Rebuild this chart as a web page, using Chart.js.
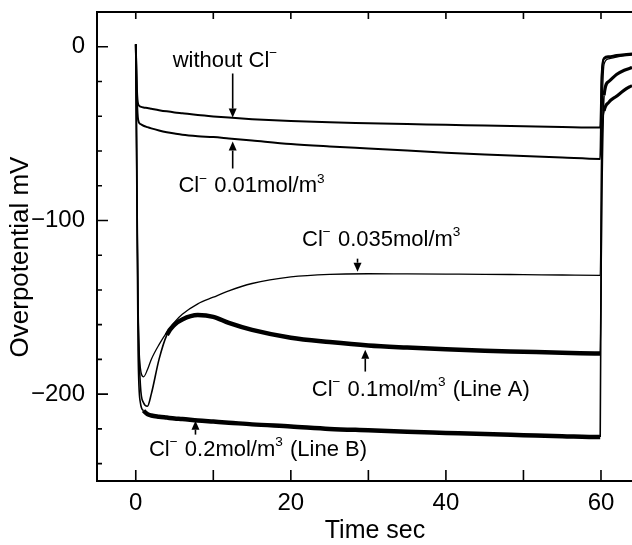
<!DOCTYPE html>
<html>
<head>
<meta charset="utf-8">
<script src="https://cdn.jsdelivr.net/npm/chart.js@4.4.1/dist/chart.umd.min.js"></script>
<style>
  html, body { margin: 0; padding: 0; background: #fff; }
  #wrap { width: 632px; height: 545px; }
</style>
</head>
<body>
<div id="wrap"><canvas id="chart" width="632" height="545"></canvas></div>
<script>
// time axis, seconds
const time = [0, 0.15, 0.3, 0.6, 1, 1.5, 2, 3, 4, 5, 6, 8, 10, 12, 15, 20, 25, 30, 35, 40, 45, 50, 55, 59.9, 60.1, 60.4, 61, 62, 63, 64];

// overpotential, mV
const withoutCl = [1.5, -25, -33, -34.5, -35, -35.3, -35.7, -36.5, -37.2, -37.8, -38.3, -39.3, -40.1, -40.8, -41.7, -42.8, -43.5, -44, -44.5, -44.9, -45.4, -45.8, -46.2, -46.5, -15, -6.5, -5.5, -4.8, -4.3, -3.9];
const cl001 = [1.5, -30, -42, -44.5, -45.5, -46.3, -47, -48.2, -49.2, -50, -50.7, -51.5, -52, -52.8, -54, -56, -57.4, -58.6, -59.8, -61, -62, -62.9, -63.8, -64.6, -18, -7, -6, -5.3, -4.7, -4.3];
const cl0035 = [1.5, -80, -150, -185, -190, -186, -180, -171.5, -164.5, -158.5, -154, -148, -144.2, -140.5, -136.3, -132.5, -131, -130.7, -130.8, -130.9, -131, -131.2, -131.4, -131.6, -50, -10, -7, -6, -5.3, -4.8];
const cl01 = [1.5, -80, -150, -195, -205, -207, -200, -180, -166, -160, -157, -154.5, -155.5, -159, -163, -167.5, -170, -172, -173.2, -174.2, -175, -175.6, -176.2, -176.6, -90, -28, -20, -16, -13.5, -12];
const cl02 = [1.5, -90, -175, -205, -209.5, -211.5, -212.3, -213, -213.5, -214, -214.3, -215.2, -215.8, -216.4, -217.4, -218.6, -220, -220.8, -221.6, -222.3, -223, -223.6, -224.2, -224.7, -60, -37, -32, -28.5, -25, -22.3];

const xTicks = [0, 20, 40, 60];
const xMinor = [0, 10, 20, 30, 40, 50, 60];
const yTicks = [0, -100, -200];
const yMinor = [-20, -40, -60, -80, -120, -140, -160, -180, -220, -240];

// annotation labels: text anchor (left, baseline) and arrow, in data units
const notes = [
  { parts: [['without Cl'], ['\u2212', 1]], tx: 4.76, ty: -11.4, ax: 12.5, from: -15.4, to: -40.8 },
  { parts: [['Cl'], ['\u2212', 1], [' 0.01mol/m'], ['3', 1]], tx: 5.5, ty: -83.8, ax: 12.5, from: -70.1, to: -54.6 },
  { parts: [['Cl'], ['\u2212', 1], [' 0.035mol/m'], ['3', 1]], tx: 21.45, ty: -114.5, ax: 28.6, from: -122, to: -129.5 },
  { parts: [['Cl'], ['\u2212', 1], [' 0.1mol/m'], ['3', 1], [' (Line A)']], tx: 22.7, ty: -200.9, ax: 29.6, from: -187, to: -174.4 },
  { parts: [['Cl'], ['\u2212', 1], [' 0.2mol/m'], ['3', 1], [' (Line B)']], tx: 1.7, ty: -235.4, ax: 7.7, from: -223.3, to: -215.3 }
];

const FONT = '"Liberation Sans", Arial, Helvetica, sans-serif';

function toPoints(vals) {
  return time.map((t, i) => ({ x: t, y: vals[i] }));
}

function thickBetween(a, b, thick, thin) {
  return ctx => {
    const x0 = ctx.p0.parsed.x, x1 = ctx.p1.parsed.x;
    if (x0 >= a && x1 <= b) return thick;
    if (x0 >= 60.3) return thick * 0.7;
    return thin;
  };
}

function drawRich(ctx, x, y, parts, size) {
  ctx.textAlign = 'left';
  ctx.textBaseline = 'alphabetic';
  parts.forEach(p => {
    const sup = p[1];
    const s = sup ? size * 0.62 : size;
    ctx.font = s + 'px ' + FONT;
    ctx.fillText(p[0], x, sup ? y - size * 0.42 : y);
    x += ctx.measureText(p[0]).width + (sup ? 1 : 0);
  });
}

function drawArrow(ctx, x, y0, y1) {
  const dir = y1 > y0 ? 1 : -1;
  const head = 9;
  ctx.beginPath();
  ctx.moveTo(x, y0);
  ctx.lineTo(x, y1 - dir * head);
  ctx.lineWidth = 1.6;
  ctx.stroke();
  ctx.beginPath();
  ctx.moveTo(x, y1);
  ctx.lineTo(x - 4, y1 - dir * head);
  ctx.lineTo(x + 4, y1 - dir * head);
  ctx.closePath();
  ctx.fill();
}

const framePlugin = {
  id: 'frame',
  afterDraw(chart) {
    const { ctx, chartArea: a, scales: { x, y } } = chart;
    ctx.save();
    ctx.strokeStyle = '#000';
    ctx.fillStyle = '#000';
    ctx.lineWidth = 2;
    ctx.beginPath();
    ctx.moveTo(a.right + 2, a.top);
    ctx.lineTo(a.left, a.top);
    ctx.lineTo(a.left, a.bottom);
    ctx.lineTo(a.right + 2, a.bottom);
    ctx.stroke();

    ctx.lineWidth = 1.6;
    ctx.beginPath();
    xMinor.forEach(v => {
      const px = x.getPixelForValue(v);
      ctx.moveTo(px, a.bottom);
      ctx.lineTo(px, a.bottom - 11);
      ctx.moveTo(px, a.top);
      ctx.lineTo(px, a.top + 7);
    });
    yTicks.forEach(v => {
      const py = y.getPixelForValue(v);
      ctx.moveTo(a.left, py);
      ctx.lineTo(a.left + 11, py);
    });
    yMinor.forEach(v => {
      const py = y.getPixelForValue(v);
      ctx.moveTo(a.left, py);
      ctx.lineTo(a.left + 5, py);
    });
    ctx.stroke();

    notes.forEach(n => {
      drawRich(ctx, x.getPixelForValue(n.tx), y.getPixelForValue(n.ty), n.parts, 22);
      drawArrow(ctx, x.getPixelForValue(n.ax), y.getPixelForValue(n.from), y.getPixelForValue(n.to));
    });

    // axis titles
    ctx.font = '25px ' + FONT;
    ctx.textAlign = 'center';
    ctx.textBaseline = 'alphabetic';
    ctx.fillText('Time sec', 375, 538);
    ctx.translate(28, 257);
    ctx.rotate(-Math.PI / 2);
    ctx.font = '26px ' + FONT;
    ctx.fillText('Overpotential mV', 0, 0);
    ctx.restore();
  }
};

const lineStyle = {
  borderColor: '#000',
  pointRadius: 0,
  fill: false,
  cubicInterpolationMode: 'monotone'
};

new Chart(document.getElementById('chart'), {
  type: 'line',
  data: {
    datasets: [
      { ...lineStyle, label: 'without Cl-', data: toPoints(withoutCl), borderWidth: 2 },
      { ...lineStyle, label: 'Cl- 0.01', data: toPoints(cl001), borderWidth: 2 },
      { ...lineStyle, label: 'Cl- 0.035', data: toPoints(cl0035), borderWidth: 1.3 },
      { ...lineStyle, label: 'Cl- 0.1 (Line A)', data: toPoints(cl01), borderWidth: 4,
        segment: { borderWidth: thickBetween(4, 60, 4.5, 1.6) } },
      { ...lineStyle, label: 'Cl- 0.2 (Line B)', data: toPoints(cl02), borderWidth: 4,
        segment: { borderWidth: thickBetween(1, 60, 4.5, 1.6) } }
    ]
  },
  options: {
    responsive: false,
    animation: false,
    events: [],
    layout: { padding: { top: 12, right: 0, left: 0, bottom: 0 } },
    plugins: { legend: { display: false }, tooltip: { enabled: false } },
    scales: {
      x: {
        type: 'linear',
        min: -5,
        max: 64,
        grid: { display: false },
        border: { display: false },
        afterBuildTicks: s => { s.ticks = xTicks.map(v => ({ value: v })); },
        afterFit: s => { s.height = 64; s.paddingLeft = 0; s.paddingRight = 0; },
        ticks: { color: '#000', font: { family: FONT, size: 24 }, padding: 0, maxRotation: 0 }
      },
      y: {
        type: 'linear',
        min: -250,
        max: 20,
        grid: { display: false },
        border: { display: false },
        afterBuildTicks: s => { s.ticks = yTicks.map(v => ({ value: v })); },
        afterFit: s => { s.width = 97; s.paddingTop = 0; s.paddingBottom = 0; },
        ticks: {
          color: '#000',
          font: { family: FONT, size: 24 },
          padding: 4,
          callback: v => (v < 0 ? '\u2212' + Math.abs(v) : String(v))
        }
      }
    }
  },
  plugins: [framePlugin]
});
</script>
</body>
</html>
